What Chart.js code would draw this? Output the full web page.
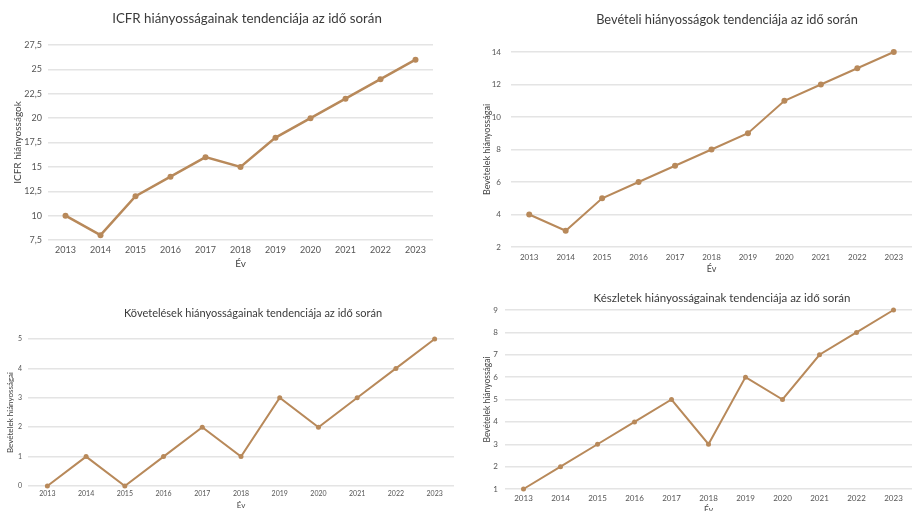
<!DOCTYPE html>
<html lang="hu">
<head>
<meta charset="utf-8">
<title>Hiányosságok tendenciája</title>
<script src="https://cdn.jsdelivr.net/npm/chart.js@4.4.1/dist/chart.umd.min.js"></script>
<style>
  html, body { margin: 0; padding: 0; background: #ffffff; }
  body { width: 916px; height: 511px; position: relative; overflow: hidden; }
  canvas { position: absolute; }
</style>
</head>
<body>
<canvas id="c1" width="458" height="280" style="left:0;top:0"></canvas>
<canvas id="c2" width="458" height="280" style="left:458px;top:0"></canvas>
<canvas id="c3" width="458" height="231" style="left:0;top:280px"></canvas>
<canvas id="c4" width="458" height="231" style="left:458px;top:280px"></canvas>
<script>
// Years on the horizontal axis
const years = ['2013', '2014', '2015', '2016', '2017', '2018', '2019', '2020', '2021', '2022', '2023'];

// Deficiency counts per year
const icfrValues = [10, 8, 12, 14, 16, 15, 18, 20, 22, 24, 26];
const revenueValues = [4, 3, 5, 6, 7, 8, 9, 11, 12, 13, 14];
const receivableValues = [0, 1, 0, 1, 2, 1, 3, 2, 3, 4, 5];
const inventoryValues = [1, 2, 3, 4, 5, 3, 6, 5, 7, 8, 9];

// Chart titles and axis titles
const titles = [
  'ICFR hiányosságainak tendenciája az idő során',
  'Bevételi hiányosságok tendenciája az idő során',
  'Követelések hiányosságainak tendenciája az idő során',
  'Készletek hiányosságainak tendenciája az idő során'
];
const yTitles = ['ICFR hiányosságok', 'Bevételek hiányosságai', 'Bevételek hiányosságai', 'Bevételek hiányosságai'];
const xTitle = 'Év';

const FONT = 'Lato, "Open Sans", sans-serif';
const LINE = '#b8895a';
const GRID = '#e4e4e4';

// Draws the heading at a fixed spot inside the canvas
const headingPlugin = {
  id: 'heading',
  afterDraw(chart, args, opts) {
    const ctx = chart.ctx;
    ctx.save();
    ctx.font = opts.size + 'px ' + FONT;
    ctx.fillStyle = '#3a3a3a';
    ctx.textAlign = 'center';
    ctx.textBaseline = 'middle';
    ctx.fillText(opts.text, opts.x, opts.y);
    ctx.restore();
  }
};

function makeChart(id, values, cfg) {
  new Chart(document.getElementById(id), {
    type: 'line',
    data: {
      labels: years,
      datasets: [{
        data: values,
        borderColor: LINE,
        backgroundColor: LINE,
        borderWidth: cfg.lineWidth,
        pointRadius: cfg.pointRadius,
        pointBorderWidth: 0,
        pointBackgroundColor: LINE,
        tension: 0,
        fill: false,
        clip: false
      }]
    },
    options: {
      responsive: false,
      animation: false,
      events: [],
      layout: { padding: { left: 0, right: cfg.right, top: cfg.top, bottom: 0 } },
      plugins: {
        legend: { display: false },
        tooltip: { enabled: false },
        heading: { text: cfg.title, x: cfg.titleX, y: cfg.titleY, size: cfg.titleSize }
      },
      scales: {
        x: {
          offset: true,
          grid: { display: false, drawTicks: false },
          border: { display: false },
          ticks: { color: '#555555', font: { family: FONT, size: cfg.tickSize }, padding: cfg.xPad, maxRotation: 0, autoSkip: false },
          title: { display: true, text: xTitle, color: '#444444', font: { family: FONT, size: cfg.axisSize }, padding: { top: 0, bottom: cfg.xTitleBottom } },
          afterFit: s => { s.height = cfg.xHeight; }
        },
        y: {
          min: cfg.min, max: cfg.max,
          grid: { color: GRID, lineWidth: 1.5, drawTicks: false },
          border: { display: false },
          ticks: {
            stepSize: cfg.step,
            color: '#555555',
            font: { family: FONT, size: cfg.tickSize },
            padding: cfg.yPad,
            callback: v => String(v).replace('.', ',')
          },
          title: { display: true, text: cfg.yTitle, color: '#444444', font: { family: FONT, size: cfg.axisSize }, padding: { top: cfg.yTitleLeft, bottom: 0 } },
          afterFit: s => { s.width = cfg.yWidth; }
        }
      }
    },
    plugins: [headingPlugin]
  });
}

makeChart('c1', icfrValues, {
  title: titles[0], titleX: 247, titleY: 19, titleSize: 13.3,
  yTitle: yTitles[0], min: 7.5, max: 27.5, step: 2.5,
  top: 45, right: 25, yWidth: 48, xHeight: 40,
  tickSize: 9, axisSize: 10, yPad: 6, xPad: 5, xTitleBottom: 10, yTitleLeft: 12,
  lineWidth: 2.5, pointRadius: 3
});

makeChart('c2', revenueValues, {
  title: titles[1], titleX: 269, titleY: 20, titleSize: 12.8,
  yTitle: yTitles[1], min: 2, max: 14, step: 2,
  top: 52, right: 3, yWidth: 53, xHeight: 33,
  tickSize: 8, axisSize: 9, yPad: 10, xPad: 6, xTitleBottom: 6, yTitleLeft: 24,
  lineWidth: 2, pointRadius: 3
});

makeChart('c3', receivableValues, {
  title: titles[2], titleX: 253, titleY: 33, titleSize: 11,
  yTitle: yTitles[2], min: 0, max: 5, step: 1,
  top: 59, right: 3, yWidth: 28, xHeight: 25,
  tickSize: 7, axisSize: 8, yPad: 6, xPad: 4, xTitleBottom: 1, yTitleLeft: 6,
  lineWidth: 2, pointRadius: 2.5
});

makeChart('c4', inventoryValues, {
  title: titles[3], titleX: 264, titleY: 18, titleSize: 11.5,
  yTitle: yTitles[3], min: 1, max: 9, step: 1,
  top: 30, right: 0, yWidth: 47, xHeight: 22,
  tickSize: 8, axisSize: 8.5, yPad: 7, xPad: 5, xTitleBottom: -4, yTitleLeft: 24,
  lineWidth: 2, pointRadius: 2.5
});
</script>
</body>
</html>
